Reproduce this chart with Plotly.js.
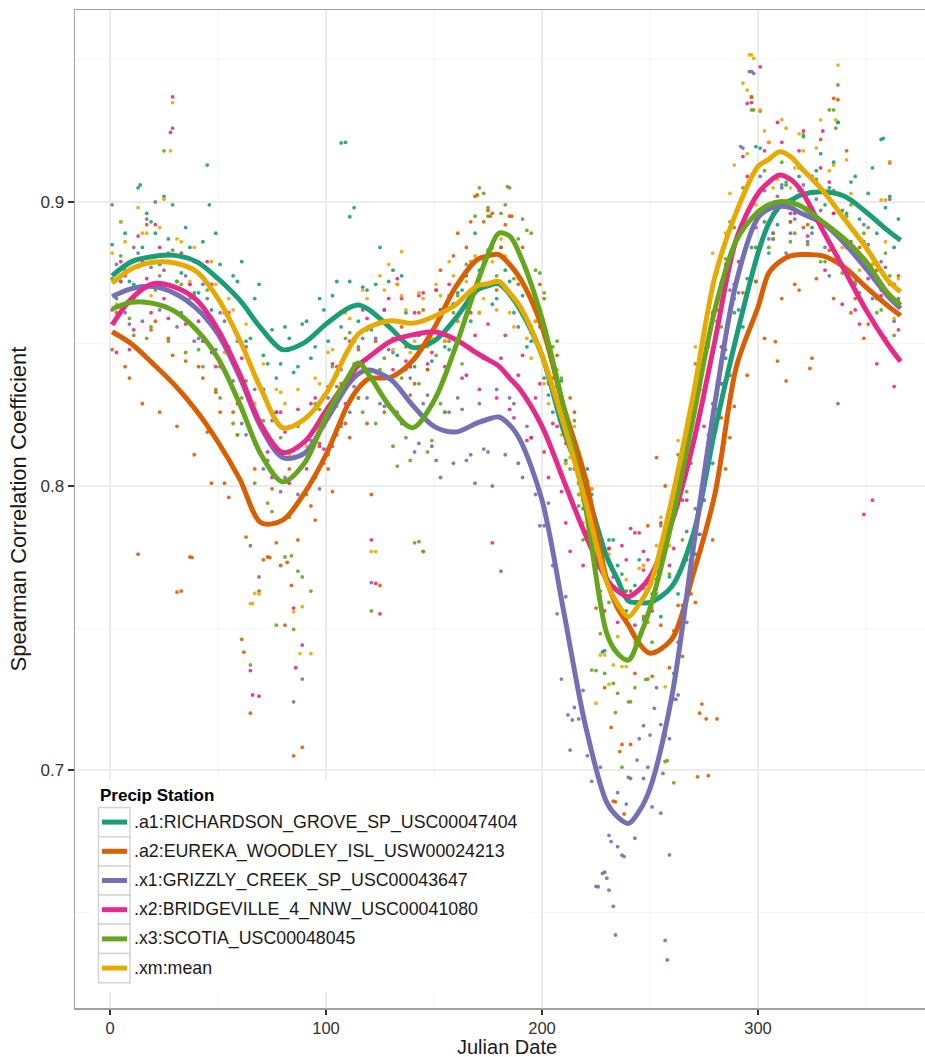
<!DOCTYPE html>
<html>
<head>
<meta charset="utf-8">
<script src="https://cdn.plot.ly/plotly-3.0.1.min.js"></script>
<style>
html,body{margin:0;padding:0;background:#fff;}
#chart{width:925px;height:1057px;}
</style>
</head>
<body>
<div id="chart"></div>
<script>
// ---------------- DATA ----------------
const stationNames = [
  ".a1:RICHARDSON_GROVE_SP_USC00047404",
  ".a2:EUREKA_WOODLEY_ISL_USW00024213",
  ".x1:GRIZZLY_CREEK_SP_USC00043647",
  ".x2:BRIDGEVILLE_4_NNW_USC00041080",
  ".x3:SCOTIA_USC00048045",
  ".xm:mean"
];
const stationColors = ["#1B9E77", "#D95F02", "#7570B3", "#E7298A", "#66A61E", "#E6AB02"];

const xTickVals = [0, 100, 200, 300];
const yTickVals = [0.7, 0.8, 0.9];
const xTitle = "Julian Date";
const yTitle = "Spearman Correlation Coefficient";
const legendTitle = "Precip Station";

// smoothed curve days
const lineDays = [1,10,20,30,40,50,60,70,80,90,100,110,115,120,130,140,150,160,170,175,180,185,190,200,210,220,230,235,240,245,250,260,270,280,290,300,305,310,315,320,330,340,350,360,366];

const lineA1 = [.874,.879,.8808,.8812,.879,.873,.8655,.8555,.848,.8505,.857,.8625,.8637,.862,.8555,.8488,.851,.859,.869,.8705,.8712,.8675,.862,.846,.8195,.7995,.775,.767,.7595,.759,.759,.7645,.783,.8195,.8526,.882,.8925,.8984,.9005,.9025,.9036,.902,.8965,.890,.8865];
const lineA2 = [.8543,.850,.843,.8355,.8265,.8155,.8025,.787,.788,.7975,.811,.8285,.8345,.8378,.8383,.844,.8555,.870,.8797,.881,.8815,.878,.873,.856,.828,.803,.767,.757,.751,.7445,.7411,.746,.769,.797,.842,.863,.875,.879,.881,.8815,.881,.877,.870,.8635,.860];
const lineX1 = [.8667,.8695,.8702,.8678,.8625,.8535,.8385,.8205,.810,.8115,.823,.8355,.8395,.8408,.8375,.8285,.821,.819,.8222,.8235,.8243,.8215,.816,.795,.756,.716,.6885,.6835,.6812,.6855,.6935,.7255,.778,.829,.872,.8945,.8975,.8985,.898,.896,.8925,.8855,.8765,.867,.8625];
const lineX2 = [.8567,.866,.8712,.870,.8655,.855,.8395,.8215,.8118,.8155,.8265,.8375,.8425,.8455,.851,.8532,.8543,.8516,.8467,.8445,.8422,.838,.8338,.821,.802,.783,.767,.763,.761,.7635,.768,.787,.815,.851,.887,.903,.907,.9095,.908,.904,.890,.876,.862,.850,.8438];
const lineX3 = [.8623,.8647,.8643,.8615,.855,.845,.829,.811,.8015,.808,.8245,.838,.8433,.839,.8275,.8205,.830,.849,.8715,.8815,.889,.888,.881,.859,.8275,.793,.748,.741,.7387,.7465,.757,.787,.824,.862,.8865,.8965,.899,.9001,.8998,.8985,.893,.887,.879,.868,.8637];
const lineXM = [.8714,.8765,.8788,.8785,.8755,.866,.8515,.834,.8205,.8235,.8325,.8475,.8535,.856,.8582,.8573,.8597,.8638,.8705,.8712,.872,.868,.863,.846,.822,.795,.766,.7585,.754,.7585,.765,.795,.832,.8735,.8965,.9125,.915,.9177,.916,.912,.904,.894,.884,.8725,.8684];

// daily correlation points (sampled, set 1)
const dotDays = [1,5,9,13,17,21,25,29,33,37,41,45,49,53,57,61,65,69,73,77,81,85,89,93,97,101,105,109,113,117,121,125,129,133,137,141,145,149,153,157,161,165,169,173,177,181,185,189,193,197,201,205,209,213,217,221,225,229,233,237,241,245,249,253,257,261,265,269,273,277,281,285,289,293,297,301,305,309,313,317,321,325,329,333,337,341,345,349,353,357,361,365];

const dotA1 = [.885,.893,.872,.905,.896,.889,.902,.899,.875,.884,.868,.913,.889,.862,.874,.879,.852,.871,.843,.838,.856,.840,.857,.845,.866,.851,.872,.921,.898,.870,.855,.884,.872,.846,.861,.842,.858,.844,.862,.848,.868,.874,.889,.879,.864,.884,.872,.856,.849,.865,.838,.826,.837,.818,.797,.806,.772,.742,.781,.769,.763,.774,.752,.767,.712,.734,.756,.772,.783,.812,.832,.845,.861,.856,.884,.919,.882,.892,.906,.899,.923,.891,.917,.905,.928,.896,.909,.886,.912,.922,.902,.894];
const dotA2 = [.848,.872,.838,.776,.892,.858,.881,.846,.763,.775,.842,.819,.833,.801,.826,.746,.720,.763,.775,.780,.751,.705,.708,.793,.815,.806,.835,.822,.851,.843,.797,.765,.858,.871,.849,.836,.862,.851,.876,.867,.889,.884,.902,.893,.896,.884,.895,.871,.876,.858,.866,.838,.823,.831,.812,.782,.757,.729,.689,.709,.709,.744,.786,.810,.800,.749,.740,.762,.720,.698,.718,.806,.828,.868,.937,.932,.893,.844,.837,.871,.891,.845,.922,.883,.936,.918,.866,.852,.878,.869,.871,.874];
const dotX1 = [.899,.872,.857,.882,.894,.900,.876,.926,.861,.871,.852,.866,.848,.858,.837,.822,.779,.768,.809,.826,.803,.724,.732,.816,.799,.831,.818,.846,.835,.852,.766,.829,.848,.826,.841,.812,.829,.814,.803,.826,.831,.809,.801,.813,.800,.770,.831,.808,.821,.797,.786,.772,.732,.707,.718,.705,.659,.664,.652,.670,.697,.711,.701,.729,.640,.725,.758,.781,.783,.818,.827,.848,.866,.919,.946,.909,.887,.902,.882,.894,.906,.889,.897,.874,.829,.884,.871,.892,.866,.879,.901,.866];
const dotX2 = [.862,.879,.848,.888,.873,.892,.866,.937,.882,.871,.858,.879,.842,.861,.834,.845,.735,.726,.812,.826,.819,.757,.744,.829,.814,.835,.842,.829,.851,.862,.781,.755,.866,.873,.844,.861,.868,.847,.862,.871,.858,.839,.853,.845,.780,.845,.827,.839,.816,.831,.812,.822,.798,.777,.801,.784,.771,.756,.768,.779,.785,.7835,.774,.770,.781,.778,.795,.821,.834,.850,.862,.878,.871,.916,.935,.9476,.921,.928,.917,.896,.925,.909,.912,.907,.881,.893,.862,.790,.795,.867,.9138,.855];
const dotX3 = [.873,.881,.859,.877,.852,.869,.918,.883,.871,.866,.848,.869,.834,.851,.822,.831,.737,.812,.794,.751,.775,.7495,.768,.763,.827,.811,.839,.852,.843,.826,.756,.841,.828,.807,.817,.780,.777,.816,.829,.851,.867,.878,.895,.903,.884,.896,.905,.887,.890,.876,.868,.849,.838,.806,.793,.781,.735,.734,.7305,.701,.724,.745,.732,.762,.703,.6955,.781,.808,.834,.849,.858,.880,.891,.905,.9324,.913,.884,.897,.907,.889,.9236,.898,.879,.9324,.9412,.895,.872,.889,.881,.862,.874,.865];
const dotXM = [.882,.893,.869,.898,.889,.881,.901,.935,.886,.872,.879,.858,.871,.847,.862,.838,.7586,.762,.818,.834,.829,.7557,.7575,.741,.836,.847,.828,.861,.852,.869,.7769,.874,.878,.871,.862,.851,.866,.852,.867,.879,.858,.872,.881,.866,.879,.887,.861,.873,.852,.858,.836,.843,.818,.810,.797,.802,.7235,.7405,.737,.7364,.759,.771,.752,.779,.7293,.792,.806,.822,.846,.861,.875,.889,.913,.9418,.9518,.9324,.921,.908,.926,.912,.918,.903,.9289,.911,.9482,.9148,.889,.897,.878,.9007,.9142,.873];

// daily correlation points (sampled, set 2)
const dotDays2 = [3,7,11,15,19,23,27,31,35,39,43,47,51,55,59,63,67,71,75,79,83,87,91,95,99,103,107,111,115,119,123,127,131,135,139,143,147,151,155,159,163,167,171,175,179,183,187,191,195,199,203,207,211,215,219,223,227,231,235,239,243,247,251,255,259,263,267,271,275,279,283,287,291,295,299,303,307,311,315,319,323,327,331,335,339,343,347,351,355,359,363];

const dot2A1 = [.866,.889,.871,.884,.893,.878,.887,.872,.891,.868,.886,.862,.878,.859,.872,.851,.866,.846,.855,.843,.852,.842,.858,.849,.862,.867,.856,.872,.858,.869,.871,.862,.876,.874,.842,.853,.841,.857,.849,.864,.869,.858,.876,.883,.866,.876,.861,.867,.851,.856,.832,.835,.809,.816,.792,.797,.776,.781,.772,.756,.765,.753,.762,.754,.768,.762,.784,.776,.803,.808,.836,.839,.862,.873,.872,.893,.887,.905,.893,.909,.897,.911,.899,.914,.897,.907,.894,.903,.889,.898,.884];
const dot2A2 = [.861,.842,.866,.829,.855,.826,.852,.821,.844,.811,.838,.801,.826,.796,.818,.782,.806,.774,.799,.772,.806,.781,.812,.788,.821,.798,.836,.817,.848,.822,.851,.826,.852,.856,.832,.861,.841,.869,.851,.881,.862,.893,.871,.897,.869,.892,.866,.884,.854,.871,.837,.846,.815,.826,.795,.779,.763,.778,.741,.763,.734,.754,.733,.751,.736,.758,.774,.759,.795,.781,.824,.817,.856,.839,.872,.852,.889,.866,.893,.869,.892,.873,.889,.866,.887,.861,.884,.857,.876,.852,.871];
const dot2X1 = [.878,.861,.884,.858,.877,.862,.882,.856,.874,.851,.871,.847,.861,.838,.851,.818,.834,.806,.823,.798,.821,.797,.824,.803,.832,.814,.841,.826,.849,.831,.852,.828,.847,.822,.838,.815,.832,.809,.826,.808,.827,.811,.829,.812,.834,.811,.829,.803,.817,.786,.794,.755,.761,.722,.728,.696,.701,.677,.692,.688,.676,.697,.687,.716,.711,.745,.752,.792,.795,.829,.836,.869,.868,.893,.884,.904,.889,.906,.889,.904,.886,.901,.884,.896,.878,.891,.872,.885,.866,.877,.858];
const dot2X2 = [.847,.874,.855,.879,.861,.884,.859,.881,.857,.879,.851,.871,.842,.861,.829,.849,.815,.834,.803,.826,.801,.827,.806,.831,.813,.843,.822,.851,.831,.859,.836,.862,.841,.866,.842,.867,.843,.869,.842,.864,.838,.861,.834,.857,.831,.853,.824,.846,.817,.836,.803,.821,.787,.806,.772,.791,.761,.778,.752,.774,.751,.777,.756,.787,.772,.806,.795,.831,.821,.861,.849,.891,.879,.909,.891,.918,.896,.921,.896,.918,.888,.907,.876,.896,.864,.886,.857,.873,.843,.864,.835];
const dot2X3 = [.853,.876,.853,.878,.856,.874,.851,.872,.847,.867,.842,.859,.831,.849,.818,.837,.801,.823,.791,.817,.789,.821,.797,.829,.808,.842,.821,.854,.831,.855,.822,.845,.814,.838,.809,.836,.812,.846,.826,.861,.843,.879,.861,.895,.874,.899,.873,.894,.856,.875,.836,.851,.808,.823,.781,.799,.748,.759,.727,.753,.729,.764,.745,.786,.769,.811,.798,.843,.831,.871,.856,.893,.874,.905,.884,.911,.887,.914,.886,.912,.885,.908,.879,.904,.875,.899,.868,.891,.861,.882,.853];
const dot2XM = [.864,.886,.865,.889,.867,.891,.869,.887,.866,.884,.861,.879,.852,.866,.841,.857,.829,.843,.816,.833,.811,.834,.814,.838,.821,.848,.833,.859,.843,.866,.847,.869,.848,.867,.847,.868,.849,.871,.851,.874,.855,.879,.861,.883,.862,.881,.856,.872,.845,.859,.829,.841,.808,.821,.787,.799,.761,.776,.747,.767,.745,.772,.757,.789,.779,.816,.809,.849,.844,.882,.871,.903,.888,.917,.899,.925,.905,.929,.905,.924,.898,.919,.892,.913,.884,.903,.876,.896,.867,.886,.859];

// extra visible outliers
const extraDaysA1 = [14,46,107,111,228,259,299,337,358];
const extraValsA1 = [.906,.899,.9208,.8948,.7416,.7214,.9195,.928,.9224];
const extraDaysA2 = [31,38,62,74,82,84,170,176,186,232,234,236,238,272,274,276,297,308,324,335];
const extraValsA2 = [.7626,.7748,.7415,.7748,.7731,.765,.9025,.895,.895,.715,.6888,.7065,.6845,.6976,.7232,.718,.9369,.8508,.8414,.9365];
const extraDaysX1 = [212,214,226,228,230,231,232,234,235,238,240,244,247,250,252,255,256,258,259,262,263,292,296,298];
const extraValsX1 = [.7194,.7176,.6589,.6636,.6619,.6577,.6748,.6419,.673,.6695,.6974,.7035,.7156,.7123,.7217,.6848,.6988,.6331,.6701,.7249,.7264,.9195,.9459,.9453];
const extraDaysX2 = [28,66,86,123,243,247,295,330];
const extraValsX2 = [.9245,.7264,.736,.7657,.7835,.7704,.9347,.925];
const extraDaysX3 = [84,87,143,145,171,175,184,195,223,234,240,248,258,298,335,336];
const extraValsX3 = [.7754,.77,.7804,.7769,.905,.898,.9054,.889,.7352,.7202,.724,.7319,.7033,.9324,.9324,.926];
const extraDaysXM = [28,66,67,88,123,135,214,227,231,239,295,296,298,336,359];
const extraValsXM = [.918,.7586,.7622,.741,.7769,.8825,.8127,.7405,.7302,.7364,.9394,.9518,.9506,.9289,.9007];

// ---------------- BUILD ----------------
const lineSeries = [lineA1, lineA2, lineX1, lineX2, lineX3, lineXM];
const dotSeries = [dotA1, dotA2, dotX1, dotX2, dotX3, dotXM];
const dotSeries2 = [dot2A1, dot2A2, dot2X1, dot2X2, dot2X3, dot2XM];
const extraDays = [extraDaysA1, extraDaysA2, extraDaysX1, extraDaysX2, extraDaysX3, extraDaysXM];
const extraVals = [extraValsA1, extraValsA2, extraValsX1, extraValsX2, extraValsX3, extraValsXM];

const FONT = "Liberation Sans, Arial, Helvetica, sans-serif";
const traces = [];
for (let i = 0; i < 6; i++) {
  traces.push({
    type: "scatter", mode: "markers",
    x: dotDays.concat(dotDays2, extraDays[i]),
    y: dotSeries[i].concat(dotSeries2[i], extraVals[i]),
    marker: {color: stationColors[i], size: 3.8, opacity: 0.9},
    showlegend: false, hoverinfo: "skip"
  });
}
for (let i = 0; i < 6; i++) {
  traces.push({
    type: "scatter", mode: "lines",
    x: lineDays, y: lineSeries[i], name: stationNames[i],
    line: {color: stationColors[i], width: 5, shape: "spline", smoothing: 0.9},
    showlegend: false
  });
}

// layout geometry (pixels)
const W = 925, H = 1057;
const M = {l: 75, r: 0, t: 10, b: 49};
const px = x => (x - M.l) / (W - M.l - M.r);
const py = y => (H - M.b - y) / (H - M.t - M.b);

const shapes = [];
const annotations = [];
// x axis title
annotations.push({xref: "paper", yref: "paper", x: px(507), y: py(1047), xanchor: "center", yanchor: "middle",
  text: xTitle, showarrow: false, font: {family: FONT, size: 20, color: "#1a1a1a"}});
// legend background
shapes.push({type: "rect", xref: "paper", yref: "paper", x0: px(90), x1: px(530), y0: py(992), y1: py(780),
  fillcolor: "#ffffff", line: {width: 0}, layer: "above"});
annotations.push({xref: "paper", yref: "paper", x: px(98), y: py(795), xanchor: "left", yanchor: "middle",
  text: "<b>" + legendTitle + "</b>", showarrow: false, font: {family: FONT, size: 17, color: "#000"}});
for (let i = 0; i < 6; i++) {
  const top = 807.5 + 29.2 * i;
  shapes.push({type: "rect", xref: "paper", yref: "paper", x0: px(98.5), x1: px(130), y0: py(top + 29.2), y1: py(top),
    fillcolor: "#ffffff", line: {color: "#d4d4d4", width: 1.5}, layer: "above"});
  const cy = top + 14.6;
  shapes.push({type: "line", xref: "paper", yref: "paper", x0: px(102), x1: px(127), y0: py(cy), y1: py(cy),
    line: {color: stationColors[i], width: 5}, layer: "above"});
  annotations.push({xref: "paper", yref: "paper", x: px(132), y: py(cy), xanchor: "left", yanchor: "middle",
    text: stationNames[i], showarrow: false, font: {family: FONT, size: 17.8, color: "#1a1a1a"}});
}

const layout = {
  width: W, height: H,
  margin: M,
  paper_bgcolor: "#ffffff", plot_bgcolor: "#ffffff",
  font: {family: FONT},
  showlegend: false,
  xaxis: {
    range: [-16.2, 377.3], tickvals: xTickVals, ticktext: xTickVals.map(String),
    ticks: "outside", ticklen: 5, tickwidth: 1.5, tickcolor: "#333",
    tickfont: {family: FONT, size: 16.5, color: "#333"},
    showgrid: true, gridcolor: "#ebebeb", gridwidth: 1.2,
    minor: {dtick: 50, tick0: 0, showgrid: true, gridcolor: "#f5f5f5", gridwidth: 1, ticks: ""},
    showline: true, linecolor: "#a0a0a0", linewidth: 1.5, mirror: true,
    zeroline: false
  },
  yaxis: {
    range: [0.6162, 0.9676], tickvals: yTickVals, ticktext: yTickVals.map(v => v.toFixed(1)),
    ticks: "outside", ticklen: 6, tickwidth: 1.5, tickcolor: "#333",
    tickfont: {family: FONT, size: 17, color: "#333"},
    showgrid: true, gridcolor: "#ebebeb", gridwidth: 1.2,
    minor: {dtick: 0.05, tick0: 0.6, showgrid: true, gridcolor: "#f5f5f5", gridwidth: 1, ticks: ""},
    showline: true, linecolor: "#a0a0a0", linewidth: 1.5, mirror: false,
    zeroline: false,
    title: {text: yTitle, font: {family: FONT, size: 22, color: "#1a1a1a"}, standoff: 8}
  },
  shapes: shapes,
  annotations: annotations
};

Plotly.newPlot("chart", traces, layout, {staticPlot: true, displayModeBar: false});
</script>
</body>
</html>
